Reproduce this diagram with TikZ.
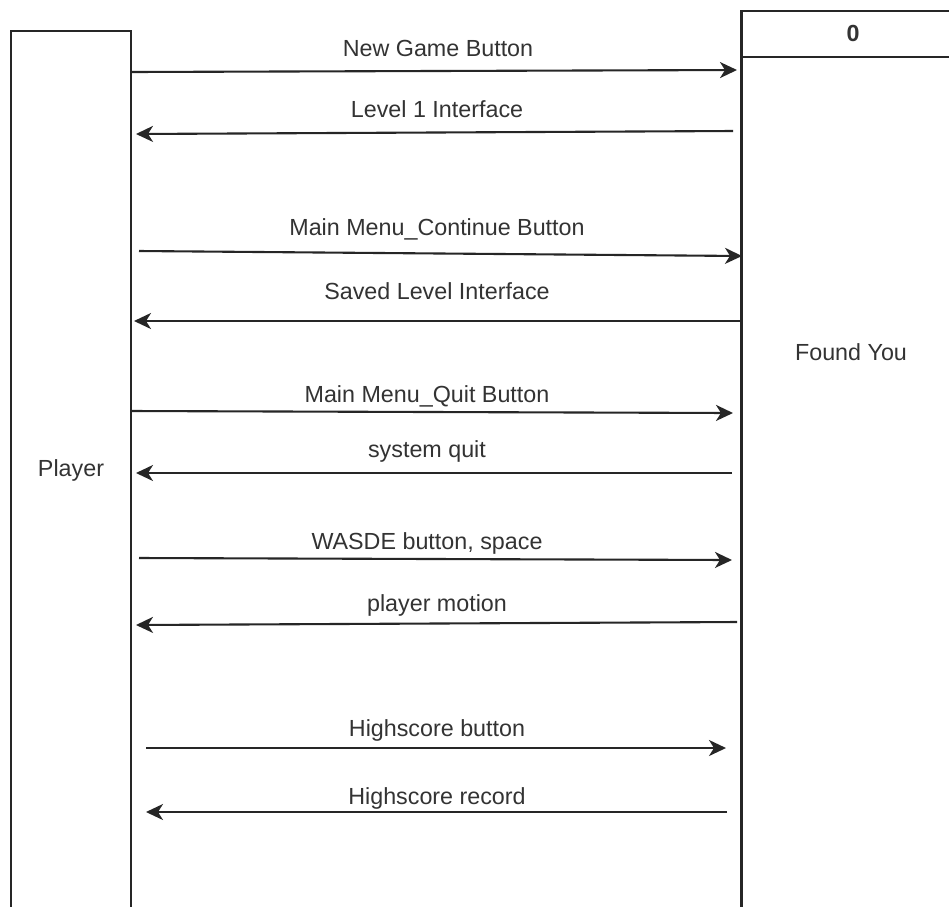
\documentclass[tikz,border=0pt]{standalone}
\usepackage{fontspec}
\setmainfont{Liberation Sans}
\usetikzlibrary{arrows.meta}
\begin{document}
\begin{tikzpicture}[x=1pt,y=-1pt,
  lifeline/.style={draw=black!85,line width=2.1pt},
  msg/.style={draw=black!85,line width=2.1pt,-{Stealth[length=17pt,width=16pt,inset=5pt]}},
  lbl/.style={text=black!80,font=\fontsize{23.3}{27}\selectfont,inner sep=0pt,anchor=center}]
\useasboundingbox (0,0) rectangle (949,906);
\clip (0,0) rectangle (949,906);
\fill[white] (0,0) rectangle (949,906);

% participants
\draw[lifeline] (11,920) -- (11,31) -- (131,31) -- (131,920);
\draw[lifeline] (741.5,920) -- (741.5,11) -- (960,11);
\draw[lifeline] (741.5,57) -- (960,57);
\node[lbl] (player) at (71,470) {Player};
\node[lbl] (game) at (851,352) {Found You};
\node[lbl,font=\fontsize{23.3}{27}\selectfont\bfseries] (score) at (853,33) {0};

% message end points
\coordinate (a1) at (131,72);   \coordinate (b1) at (737,70);
\coordinate (a2) at (733,131);  \coordinate (b2) at (136,134);
\coordinate (a3) at (139,251);  \coordinate (b3) at (742,256);
\coordinate (a4) at (741,321);  \coordinate (b4) at (134,321);
\coordinate (a5) at (131,411);  \coordinate (b5) at (733,413);
\coordinate (a6) at (732,473);  \coordinate (b6) at (136,473);
\coordinate (a7) at (139,558);  \coordinate (b7) at (732,560);
\coordinate (a8) at (737,622);  \coordinate (b8) at (136,625);
\coordinate (a9) at (146,748);  \coordinate (b9) at (726,748);
\coordinate (a10) at (727,812); \coordinate (b10) at (146,812);

% messages
\draw[msg] (a1) -- (b1);
\draw[msg] (a2) -- (b2);
\draw[msg] (a3) -- (b3);
\draw[msg] (a4) -- (b4);
\draw[msg] (a5) -- (b5);
\draw[msg] (a6) -- (b6);
\draw[msg] (a7) -- (b7);
\draw[msg] (a8) -- (b8);
\draw[msg] (a9) -- (b9);
\draw[msg] (a10) -- (b10);

% message labels
\node[lbl] (m1) at (438,48) {New Game Button};
\node[lbl] (m2) at (437,109) {Level 1 Interface};
\node[lbl] (m3) at (437,229) {Main Menu\_Continue Button};
\node[lbl] (m4) at (437,291) {Saved Level Interface};
\node[lbl] (m5) at (427,396) {Main Menu\_Quit Button};
\node[lbl] (m6) at (427,451) {system quit};
\node[lbl] (m7) at (427,543) {WASDE button, space};
\node[lbl] (m8) at (437,605) {player motion};
\node[lbl] (m9) at (437,730) {Highscore button};
\node[lbl] (m10) at (437,798) {Highscore record};
\end{tikzpicture}
\end{document}
